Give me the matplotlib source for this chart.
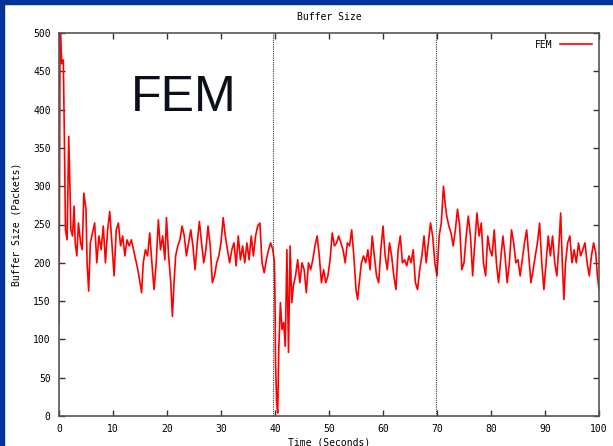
import matplotlib
matplotlib.use("Agg")
from matplotlib import pyplot as plt
from matplotlib.patches import Rectangle
import numpy as np

# Buffer size trace (time in s, packets)
time_s = [0.0, 0.1, 0.2, 0.5, 0.8, 0.9, 1.0, 1.2, 1.5, 1.8, 2.0, 2.2, 2.5, 2.8, 3.0, 3.3, 3.6,
          4.0, 4.3, 4.6, 5.0, 5.2, 5.5, 5.8, 6.2, 6.6, 7.0, 7.4, 7.8, 8.2, 8.6, 9.0, 9.4, 9.8,
          10.2, 10.6, 11.0, 11.4, 11.8, 12.2, 12.6, 13.0, 13.4, 13.8, 14.2, 14.6, 15.0, 15.3,
          15.6, 16.0, 16.4, 16.8, 17.2, 17.6, 18.0, 18.4, 18.8, 19.2, 19.6, 19.9, 20.3, 20.7,
          21.0, 21.3, 21.6, 22.0, 22.4, 22.8, 23.2, 23.6, 24.0, 24.4, 24.8, 25.2, 25.6, 26.0,
          26.4, 26.8, 27.2, 27.6, 28.0, 28.4, 28.8, 29.2, 29.6, 30.0, 30.4, 30.8, 31.2, 31.6,
          32.0, 32.4, 32.8, 33.2, 33.6, 34.0, 34.4, 34.8, 35.2, 35.6, 36.0, 36.4, 36.8, 37.2,
          37.6, 38.0, 38.4, 38.8, 39.2, 39.6, 39.9, 40.0, 40.1, 40.3, 40.5, 40.7, 41.0, 41.3,
          41.6, 41.9, 42.2, 42.5, 42.8, 43.1, 43.4, 43.8, 44.2, 44.6, 45.0, 45.4, 45.8, 46.2,
          46.6, 47.0, 47.4, 47.8, 48.2, 48.6, 49.0, 49.4, 49.8, 50.2, 50.6, 51.0, 51.4, 51.8,
          52.2, 52.6, 53.0, 53.4, 53.8, 54.2, 54.6, 55.0, 55.3, 55.6, 56.0, 56.4, 56.8, 57.2,
          57.6, 58.0, 58.4, 58.8, 59.2, 59.6, 60.0, 60.4, 60.8, 61.2, 61.6, 62.0, 62.4, 62.8,
          63.2, 63.6, 64.0, 64.4, 64.8, 65.2, 65.6, 66.0, 66.4, 66.8, 67.2, 67.6, 68.0, 68.4,
          68.8, 69.2, 69.6, 70.0, 70.4, 70.8, 71.2, 71.5, 71.8, 72.2, 72.6, 73.0, 73.4, 73.8,
          74.2, 74.6, 75.0, 75.4, 75.8, 76.2, 76.6, 77.0, 77.4, 77.8, 78.2, 78.6, 79.0, 79.4,
          79.8, 80.2, 80.6, 81.0, 81.4, 81.8, 82.2, 82.6, 83.0, 83.4, 83.8, 84.2, 84.6, 85.0,
          85.4, 85.8, 86.2, 86.6, 87.0, 87.4, 87.8, 88.2, 88.6, 89.0, 89.4, 89.8, 90.2, 90.6,
          91.0, 91.4, 91.8, 92.2, 92.6, 92.9, 93.2, 93.5, 93.8, 94.2, 94.6, 95.0, 95.4, 95.8,
          96.2, 96.6, 97.0, 97.4, 97.8, 98.2, 98.6, 99.0, 99.4, 99.7, 100.0]
buffer_pkts = [120, 300, 520, 460, 465, 417, 360, 243, 230, 365, 308, 243, 235, 274, 226, 209, 252,
               226, 217, 291, 270, 200, 163, 226, 239, 252, 200, 235, 217, 248, 200, 243, 267, 226,
               183, 243, 252, 222, 235, 209, 230, 222, 230, 217, 204, 191, 174, 161,
               200, 217, 209, 239, 200, 165, 200, 256, 217, 235, 204, 259, 209, 174,
               130, 174, 209, 222, 230, 248, 235, 209, 226, 243, 222, 191, 226, 254,
               226, 200, 217, 248, 222, 174, 183, 200, 209, 226, 259, 235, 217, 200,
               217, 226, 196, 235, 204, 222, 200, 226, 204, 235, 209, 235, 248, 252,
               200, 187, 204, 217, 226, 217, 200, 152, 70, 17, 4, 87, 148, 113,
               122, 91, 217, 83, 222, 148, 170, 183, 204, 174, 200, 191, 161, 200,
               191, 204, 222, 235, 209, 174, 191, 174, 183, 204, 239, 222, 226, 235,
               226, 217, 200, 226, 222, 243, 209, 165, 152, 174, 200, 209, 200, 217,
               191, 235, 209, 183, 174, 217, 248, 209, 191, 226, 209, 183, 165, 217,
               235, 200, 204, 196, 209, 200, 217, 174, 165, 191, 209, 235, 200, 226,
               252, 235, 200, 183, 235, 252, 300, 278, 261, 248, 239, 222, 243, 270,
               248, 191, 200, 235, 261, 235, 183, 226, 265, 235, 252, 200, 183, 235,
               217, 209, 243, 200, 174, 204, 235, 209, 174, 200, 243, 226, 200, 204,
               183, 204, 226, 243, 209, 174, 191, 209, 226, 252, 200, 165, 200, 235,
               209, 235, 200, 183, 226, 265, 200, 152, 200, 226, 235, 200, 217, 200,
               226, 209, 217, 226, 200, 183, 209, 226, 213, 183, 165]

x_ticks = [0, 10, 20, 30, 40, 50, 60, 70, 80, 90, 100]
y_ticks = [0, 50, 100, 150, 200, 250, 300, 350, 400, 450, 500]
event_times = [39.7, 69.8]

mono = "DejaVu Sans Mono"

fig = plt.figure(figsize=(6.13, 4.46), dpi=100)
fig.patch.set_facecolor("white")

# slide frame: blue strip on the top and left edges
fig.patches.append(Rectangle((0, 1 - 4 / 446), 1, 4 / 446, transform=fig.transFigure,
                             color="#003399", zorder=0))
fig.patches.append(Rectangle((0, 0), 4 / 613, 1, transform=fig.transFigure,
                             color="#003399", zorder=0))

ax = fig.add_axes([59 / 613, 30 / 446, 540 / 613, 383 / 446])
ax.plot(time_s, buffer_pkts, color="#ff0000", lw=1.2, label="FEM")
for t in event_times:
    ax.axvline(t, color="#333333", lw=0.8, ls=(0, (1, 1)))

ax.set_xlim(0, 100)
ax.set_ylim(0, 500)
ax.set_xticks(x_ticks)
ax.set_yticks(y_ticks)
ax.tick_params(direction="in", top=True, right=True, length=4, width=1, color="#333333",
               labelsize=7, pad=6)
for lab in ax.get_xticklabels() + ax.get_yticklabels():
    lab.set_family(mono)
for s in ax.spines.values():
    s.set_color("#555555")
    s.set_linewidth(1.2)

ax.set_title("Buffer Size", fontsize=7, family=mono, pad=9)
ax.set_xlabel("Time (Seconds)", fontsize=7, family=mono, labelpad=2)
ax.set_ylabel("Buffer Size (Packets)", fontsize=7, family=mono, labelpad=8)

leg = ax.legend(loc="upper right", frameon=False, markerfirst=False, handlelength=3.3,
                prop={"family": mono, "size": 7}, borderaxespad=0.3)

ax.text(0.133, 0.83, "FEM", transform=ax.transAxes, fontsize=36, family="Liberation Sans",
        color="#0a0f1a", va="center", ha="left")

fig.savefig("out.png", dpi=100)
